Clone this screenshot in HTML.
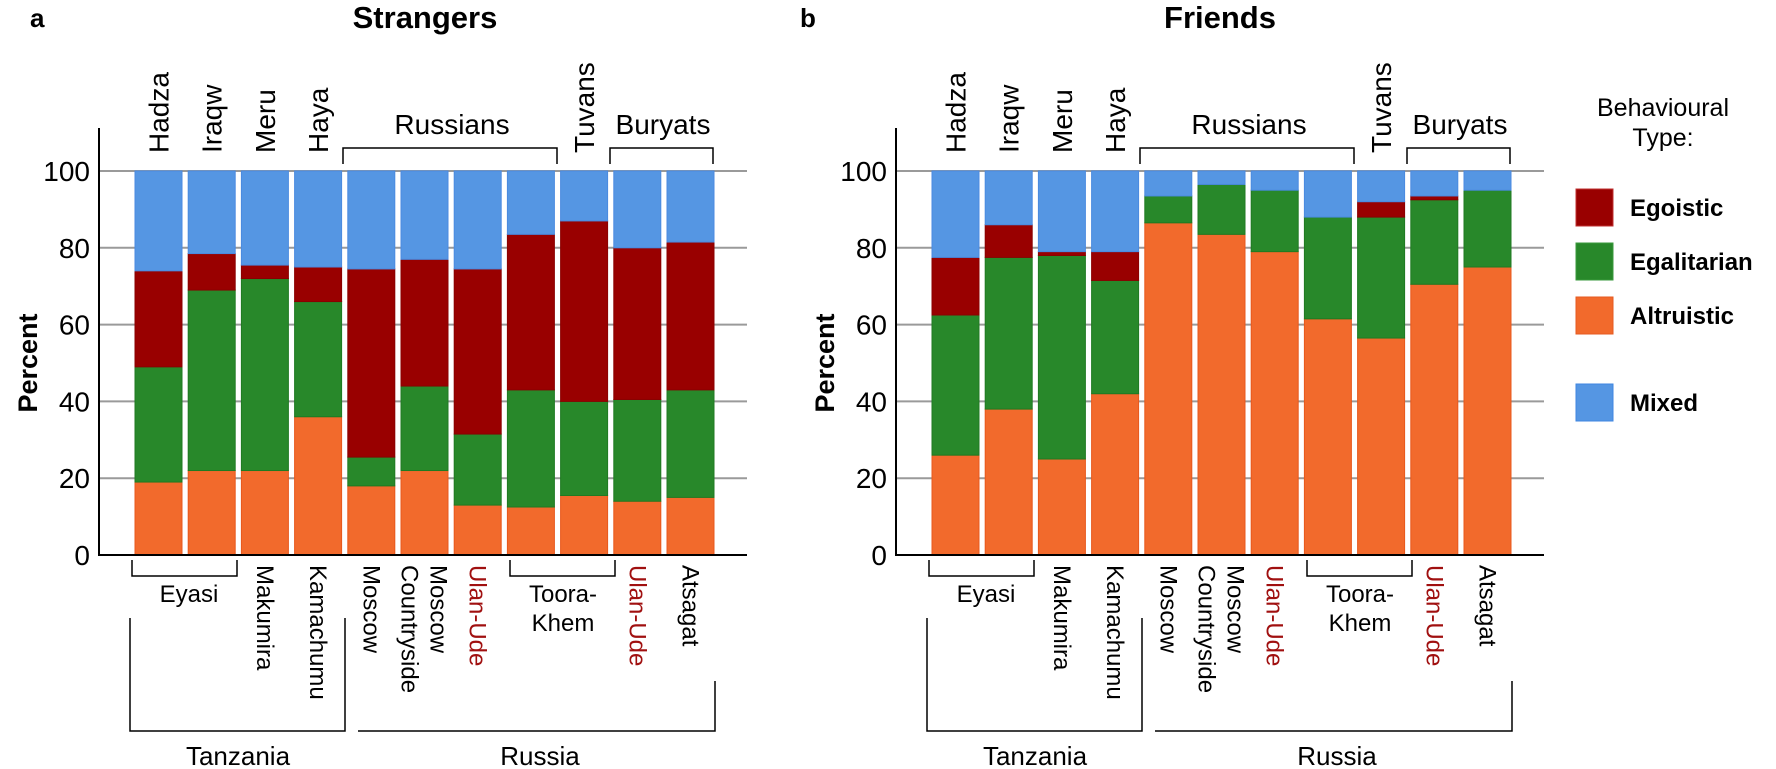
<!DOCTYPE html>
<html><head><meta charset="utf-8"><style>
html,body{margin:0;padding:0;background:#fff;}
svg{display:block;font-family:"Liberation Sans",Arial,sans-serif;}
</style></head><body>
<svg id="s" width="1776" height="769" viewBox="0 0 1776 769" xmlns="http://www.w3.org/2000/svg">
<text x="30" y="27" font-size="26" font-weight="bold">a</text>
<text x="800" y="27" font-size="26" font-weight="bold">b</text>
<text x="425" y="28" font-size="31" font-weight="bold" text-anchor="middle">Strangers</text>
<text x="1220" y="28" font-size="31" font-weight="bold" text-anchor="middle">Friends</text>
<g id="pa"></g><g id="pb"></g>
<text x="1663" y="116" font-size="25" text-anchor="middle">Behavioural</text>
<text x="1663" y="146" font-size="25" text-anchor="middle">Type:</text>
<rect x="1576" y="189" width="37" height="37" fill="#990000" stroke="#c03030" stroke-width="1"/>
<rect x="1576" y="243" width="37" height="37" fill="#28882a" stroke="#3a9a3c" stroke-width="1"/>
<rect x="1576" y="297" width="37" height="37" fill="#f26a2c" stroke="#e55a20" stroke-width="1"/>
<rect x="1576" y="384" width="37" height="37" fill="#5596e3" stroke="#3f86e0" stroke-width="1"/>
<text x="1630" y="216" font-size="24" font-weight="bold">Egoistic</text>
<text x="1630" y="270" font-size="24" font-weight="bold">Egalitarian</text>
<text x="1630" y="324" font-size="24" font-weight="bold">Altruistic</text>
<text x="1630" y="411" font-size="24" font-weight="bold">Mixed</text>
</svg>
<script>
var NS="http://www.w3.org/2000/svg";
function el(p,t,a,txt){var e=document.createElementNS(NS,t);for(var k in a)e.setAttribute(k,a[k]);if(txt!==undefined)e.textContent=txt;p.appendChild(e);return e;}
var A=[[19,49,74],[22,69,78.5],[22,72,75.5],[36,66,75],[18,25.5,74.5],[22,44,77],[13,31.5,74.5],[12.5,43,83.5],[15.5,40,87],[14,40.5,80],[15,43,81.5]];
var B=[[26,62.5,77.5],[38,77.5,86],[25,78,79],[42,71.5,79],[86.5,93.5,93.5],[83.5,96.5,96.5],[79,95,95],[61.5,88,88],[56.5,88,92],[70.5,92.5,93.5],[75,95,95]];
function Y(p){return 555-p*3.84;}
function panel(g,dx,D){
  var ax=99+dx;
  [20,40,60,80,100].forEach(function(v){el(g,'line',{x1:ax,x2:747+dx,y1:Y(v),y2:Y(v),stroke:'#9a9a9a','stroke-width':2});});
  [0,20,40,60,80,100].forEach(function(v){el(g,'text',{x:ax-9,y:Y(v)+10,'font-size':28,'text-anchor':'end'},''+v);});
  el(g,'text',{transform:'translate('+(37+dx)+',363) rotate(-90)','font-size':27,'font-weight':'bold','text-anchor':'middle'},'Percent');
  var cols=['#f26a2c','#28882a','#990000','#5596e3'],st=['#e8581c','#1f7a22','#8a0000','#4a8ae0'];
  D.forEach(function(d,i){var x=135+dx+i*53.2,w=47,prev=0,vals=[d[0],d[1],d[2],100];
    vals.forEach(function(v,j){if(v-prev>0.05)el(g,'rect',{x:x,y:Y(v),width:w,height:(v-prev)*3.84,fill:cols[j],stroke:st[j],'stroke-width':1});prev=v;});});
  el(g,'line',{x1:ax,x2:ax,y1:128,y2:556,stroke:'#000','stroke-width':2});
  el(g,'line',{x1:ax-1,x2:747+dx,y1:555,y2:555,stroke:'#000','stroke-width':2});
  function bc(i){return 135+dx+i*53.2+23.5;}
  [['Hadza',0],['Iraqw',1],['Meru',2],['Haya',3],['Tuvans',8]].forEach(function(a){
    el(g,'text',{transform:'translate('+(bc(a[1])+10)+',153) rotate(-90)','font-size':28},a[0]);});
  el(g,'path',{d:'M'+(343+dx)+' 164V148H'+(557+dx)+'V164',fill:'none',stroke:'#000','stroke-width':1.5});
  el(g,'text',{x:452+dx,y:134,'font-size':28,'text-anchor':'middle'},'Russians');
  el(g,'path',{d:'M'+(610+dx)+' 164V148H'+(713+dx)+'V164',fill:'none',stroke:'#000','stroke-width':1.5});
  el(g,'text',{x:663+dx,y:134,'font-size':28,'text-anchor':'middle'},'Buryats');
  el(g,'path',{d:'M'+(132+dx)+' 560V576H'+(237+dx)+'V560',fill:'none',stroke:'#000','stroke-width':1.5});
  el(g,'text',{x:189+dx,y:602,'font-size':24,'text-anchor':'middle'},'Eyasi');
  el(g,'path',{d:'M'+(510+dx)+' 560V576H'+(615+dx)+'V560',fill:'none',stroke:'#000','stroke-width':1.5});
  el(g,'text',{x:563+dx,y:602,'font-size':24,'text-anchor':'middle'},'Toora-');
  el(g,'text',{x:563+dx,y:631,'font-size':24,'text-anchor':'middle'},'Khem');
  function vt(x,t,c){el(g,'text',{transform:'translate('+(x-8)+',565) rotate(90)','font-size':24,fill:c||'#000'},t);}
  vt(bc(2),'Makumira');vt(bc(3),'Kamachumu');vt(bc(4),'Moscow');
  vt(bc(5)-15,'Countryside');vt(bc(5)+14,'Moscow');
  vt(bc(6),'Ulan-Ude','#a01010');vt(bc(9),'Ulan-Ude','#a01010');vt(bc(10),'Atsagat');
  el(g,'path',{d:'M'+(130+dx)+' 618V731H'+(345+dx)+'V618',fill:'none',stroke:'#000','stroke-width':1.5});
  el(g,'path',{d:'M'+(358+dx)+' 731H'+(715+dx)+'V681',fill:'none',stroke:'#000','stroke-width':1.5});
  el(g,'text',{x:238+dx,y:765,'font-size':26,'text-anchor':'middle'},'Tanzania');
  el(g,'text',{x:540+dx,y:765,'font-size':26,'text-anchor':'middle'},'Russia');
}
panel(document.getElementById('pa'),0,A);
panel(document.getElementById('pb'),797,B);
</script>
</body></html>
